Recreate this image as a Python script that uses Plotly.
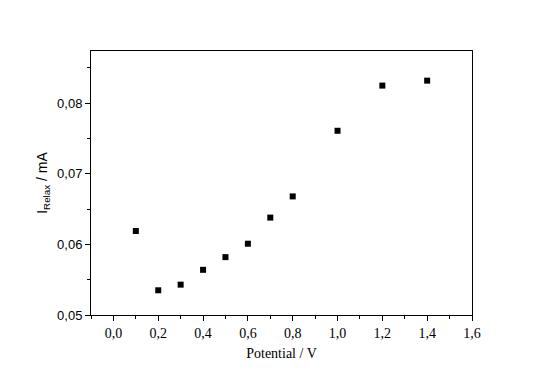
import plotly.graph_objects as go

potential = [0.1, 0.2, 0.3, 0.4, 0.5, 0.6, 0.7, 0.8, 1.0, 1.2, 1.4]
i_relax = [0.0619, 0.0535, 0.0543, 0.0564, 0.0582, 0.0601, 0.0638, 0.0668, 0.0761, 0.0825, 0.0832]

fig = go.Figure(go.Scatter(
    x=potential, y=i_relax, mode="markers",
    marker=dict(symbol="square", size=6, color="black", line=dict(width=0)),
))

fig.update_layout(
    width=536, height=370,
    margin=dict(l=83, r=72, t=43, b=63),
    paper_bgcolor="white", plot_bgcolor="white",
    separators=", ",
    showlegend=False,
)
fig.update_xaxes(
    range=[-0.1, 1.6], dtick=0.2, tick0=0, tickformat=".1f",
    showgrid=False, zeroline=False,
    showline=True, linecolor="black", linewidth=1, mirror=True,
    ticks="outside", ticklen=5, tickcolor="black",
    minor=dict(dtick=0.1, tick0=0, ticks="outside", ticklen=3, tickcolor="black"),
    tickfont=dict(family="Liberation Serif", size=14, color="black"),
    title=dict(text="Potential / V", font=dict(family="Liberation Serif", size=14, color="black"), standoff=8),
)
fig.update_yaxes(
    range=[0.05, 0.0874], dtick=0.01, tick0=0.05, tickformat=".2f",
    showgrid=False, zeroline=False,
    showline=True, linecolor="black", linewidth=1, mirror=True,
    ticks="outside", ticklen=5, tickcolor="black",
    minor=dict(dtick=0.005, tick0=0.05, ticks="outside", ticklen=3, tickcolor="black"),
    tickfont=dict(family="Liberation Sans", size=13, color="black"),
    title=dict(text="I<sub>Relax</sub> / mA", font=dict(family="Liberation Sans", size=14, color="black"), standoff=6),
)

fig.write_html("out.html")
